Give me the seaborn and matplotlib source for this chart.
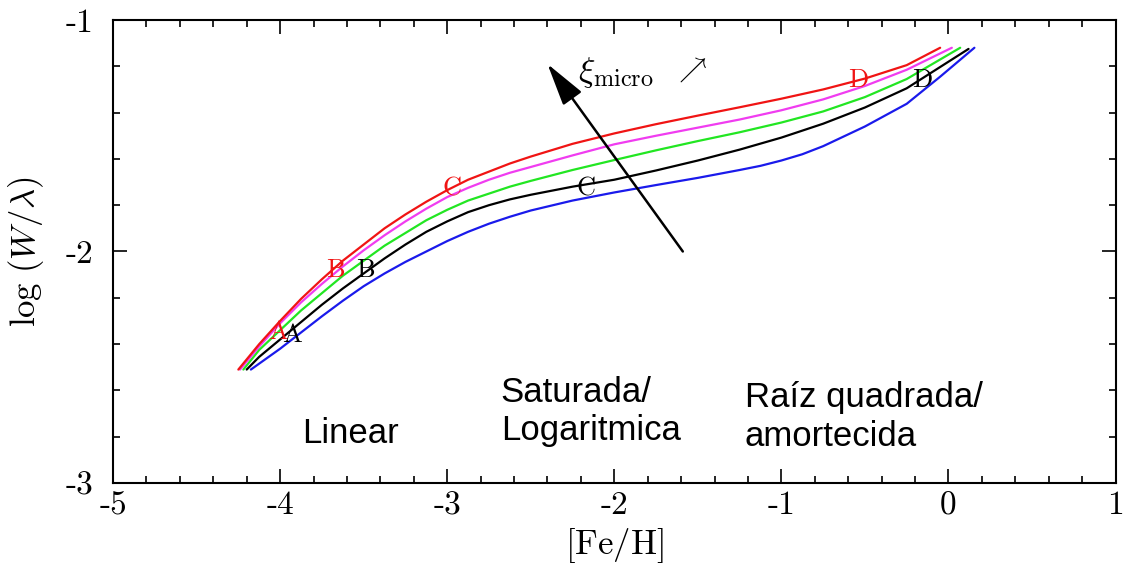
import matplotlib
matplotlib.use("Agg")
import matplotlib.pyplot as plt
from matplotlib.ticker import MultipleLocator
import seaborn as sns
import pandas as pd

# ---- data ----
red_x = [-4.25, -4.125, -4.0, -3.875, -3.75, -3.625, -3.5, -3.375, -3.25, -3.125, -3.0, -2.875, -2.75, -2.625, -2.5,
         -2.25, -2.0, -1.75, -1.5, -1.25, -1.0, -0.75, -0.5, -0.25, -0.05]
red_y = [-2.51, -2.40, -2.30, -2.205, -2.12, -2.04, -1.97, -1.90, -1.84, -1.785, -1.735, -1.69, -1.655, -1.62, -1.59,
         -1.535, -1.49, -1.45, -1.413, -1.377, -1.34, -1.30, -1.253, -1.195, -1.12]

magenta_x = [-4.24, -4.125, -4.0, -3.875, -3.75, -3.625, -3.5, -3.375, -3.25, -3.125, -3.0, -2.875, -2.75, -2.625, -2.5,
             -2.25, -2.0, -1.75, -1.5, -1.25, -1.0, -0.75, -0.5, -0.25, 0.02]
magenta_y = [-2.51, -2.41, -2.31, -2.22, -2.14, -2.065, -1.995, -1.93, -1.87, -1.815, -1.765, -1.725, -1.69, -1.66, -1.635,
             -1.585, -1.537, -1.50, -1.465, -1.43, -1.39, -1.343, -1.285, -1.215, -1.12]

green_x = [-4.22, -4.125, -4.0, -3.875, -3.75, -3.625, -3.5, -3.375, -3.25, -3.125, -3.0, -2.875, -2.75, -2.625, -2.5,
           -2.25, -2.0, -1.75, -1.5, -1.25, -1.0, -0.75, -0.5, -0.25, 0.07]
green_y = [-2.51, -2.425, -2.34, -2.255, -2.18, -2.105, -2.04, -1.975, -1.92, -1.865, -1.82, -1.78, -1.75, -1.72, -1.695,
           -1.648, -1.605, -1.563, -1.523, -1.485, -1.443, -1.395, -1.333, -1.255, -1.12]

black_x = [-4.20, -4.125, -4.0, -3.875, -3.75, -3.625, -3.5, -3.375, -3.25, -3.125, -3.0, -2.875, -2.75, -2.625, -2.5,
           -2.25, -2.0, -1.75, -1.5, -1.25, -1.0, -0.75, -0.5, -0.25, 0.12]
black_y = [-2.51, -2.455, -2.38, -2.305, -2.23, -2.16, -2.095, -2.03, -1.97, -1.915, -1.87, -1.83, -1.80, -1.775, -1.755,
           -1.72, -1.69, -1.65, -1.607, -1.56, -1.508, -1.448, -1.378, -1.295, -1.125]

blue_x = [-4.175, -4.0, -3.875, -3.75, -3.625, -3.5, -3.375, -3.25, -3.125, -3.0, -2.875, -2.75, -2.625, -2.5,
          -2.25, -2.0, -1.75, -1.5, -1.25, -1.125, -1.0, -0.875, -0.75, -0.5, -0.25, -0.05, 0.155]
blue_y = [-2.51, -2.42, -2.35, -2.28, -2.213, -2.15, -2.095, -2.045, -2.0, -1.955, -1.915, -1.88, -1.85, -1.823,
          -1.78, -1.745, -1.713, -1.682, -1.648, -1.63, -1.607, -1.58, -1.545, -1.46, -1.362, -1.245, -1.12]

series_names = ["blue", "black", "green", "magenta", "red"]
series_colors = ["#1a1aeb", "#000000", "#22e622", "#f03cf0", "#f01414"]

letters = ["A", "B", "C", "D"]
red_letter_x = [-4.01, -3.67, -2.97, -0.54]
red_letter_y = [-2.35, -2.08, -1.73, -1.26]
black_letter_x = [-3.93, -3.49, -2.17, -0.16]
black_letter_y = [-2.36, -2.08, -1.73, -1.26]

arrow_tail = (-1.59, -2.0)
arrow_head = (-2.40, -1.19)

regime_texts = ["Linear", "Saturada/\nLogaritmica", "Raíz quadrada/\namortecida"]
regime_x = [-3.87, -2.68, -1.22]
regime_y = [-2.785, -2.69, -2.715]

xticks = [-5, -4, -3, -2, -1, 0, 1]
yticks = [-3, -2, -1]

# ---- build table ----
rows = []
for name, xs, ys in [("blue", blue_x, blue_y), ("black", black_x, black_y),
                     ("green", green_x, green_y), ("magenta", magenta_x, magenta_y),
                     ("red", red_x, red_y)]:
    for xv, yv in zip(xs, ys):
        rows.append({"feh": xv, "logw": yv, "serie": name})
df = pd.DataFrame(rows)

sns.set_style("ticks")
plt.rcParams["font.family"] = ["cmr10", "DejaVu Serif"]
plt.rcParams["mathtext.fontset"] = "cm"
plt.rcParams["axes.unicode_minus"] = False
plt.rcParams["axes.formatter.use_mathtext"] = False
plt.rcParams["text.color"] = "black"
plt.rcParams["axes.labelcolor"] = "black"
plt.rcParams["xtick.color"] = "black"
plt.rcParams["ytick.color"] = "black"
plt.rcParams["xtick.labelcolor"] = "black"
plt.rcParams["ytick.labelcolor"] = "black"

fig = plt.figure(figsize=(11.28, 5.81), dpi=100)
ax = fig.add_axes([0.1002, 0.1687, 0.8888, 0.7969])

sns.lineplot(data=df, x="feh", y="logw", hue="serie", hue_order=series_names,
             palette=dict(zip(series_names, series_colors)), linewidth=1.6,
             legend=False, sort=False, estimator=None, ax=ax)

for lab, xv, yv in zip(letters, red_letter_x, red_letter_y):
    ax.text(xv, yv, lab, color="#f01414", fontsize=19, ha="center", va="center",
            family=["cmr10", "DejaVu Serif"])
for lab, xv, yv in zip(letters, black_letter_x, black_letter_y):
    ax.text(xv, yv, lab, color="black", fontsize=19, ha="center", va="center",
            family=["cmr10", "DejaVu Serif"])

ax.annotate("", xy=arrow_head, xytext=arrow_tail,
            arrowprops=dict(arrowstyle="-|>,head_length=1.2,head_width=0.32",
                            color="black", lw=1.8, mutation_scale=22,
                            shrinkA=0, shrinkB=0))
ax.text(-2.22, -1.225, r"$\xi_{\mathrm{micro}}$", fontsize=25,
        ha="left", va="center", color="black")
ax.text(-1.54, -1.215, r"$\nearrow$", fontsize=20, ha="center", va="center", color="black")

for t, xv, yv in zip(regime_texts, regime_x, regime_y):
    ax.text(xv, yv, t, fontsize=25, ha="left", va="center", color="black",
            family=["Liberation Sans", "DejaVu Sans"], linespacing=1.2)

ax.set_xlim(-5, 1)
ax.set_ylim(-3, -1)
ax.set_xticks(xticks)
ax.set_yticks(yticks)
ax.set_xticklabels([str(v) for v in xticks])
ax.set_yticklabels([str(v) for v in yticks])
ax.xaxis.set_minor_locator(MultipleLocator(0.2))
ax.yaxis.set_minor_locator(MultipleLocator(0.2))
ax.tick_params(which="both", direction="in", top=True, right=True, width=1.2, colors="black")
ax.tick_params(which="major", length=10)
ax.tick_params(which="minor", length=5)
ax.tick_params(axis="x", labelsize=24, pad=6)
ax.tick_params(axis="y", labelsize=24, pad=14)
for s in ax.spines.values():
    s.set_linewidth(1.5)
    s.set_color("black")

ax.set_xlabel(r"$[\mathrm{Fe/H}]$", fontsize=25, labelpad=4, color="black")
ax.set_ylabel(r"$\log\,(W/\lambda)$", fontsize=25, labelpad=14, color="black")

fig.savefig("out.png", dpi=100)
